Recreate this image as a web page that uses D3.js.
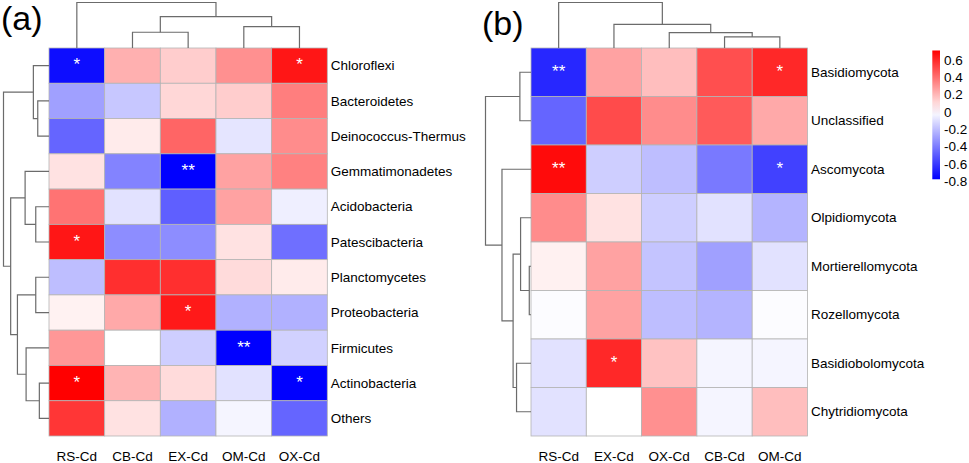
<!DOCTYPE html>
<html>
<head>
<meta charset="utf-8">
<script src="https://cdn.jsdelivr.net/npm/d3@7"></script>
<style>
  body { margin: 0; background: #fff; }
  svg { display: block; font-family: "Liberation Sans", Arial, sans-serif; }
</style>
</head>
<body>
<svg id="chart" width="969" height="463"></svg>
<script>
// ---- panel (a): bacteria ----
const rowsA = ["Chloroflexi", "Bacteroidetes", "Deinococcus-Thermus", "Gemmatimonadetes",
  "Acidobacteria", "Patescibacteria", "Planctomycetes", "Proteobacteria",
  "Firmicutes", "Actinobacteria", "Others"];
const colsA = ["RS-Cd", "CB-Cd", "EX-Cd", "OM-Cd", "OX-Cd"];
const valuesA = [
  [-0.74, 0.22, 0.14, 0.31, 0.65],
  [-0.29, -0.17, 0.11, 0.14, 0.36],
  [-0.47, 0.055, 0.43, -0.08, 0.32],
  [0.08, -0.38, -0.78, 0.26, 0.35],
  [0.39, -0.09, -0.49, 0.26, -0.05],
  [0.65, -0.35, -0.35, 0.08, -0.44],
  [-0.2, 0.58, 0.58, 0.1, 0.055],
  [0.035, 0.24, 0.64, -0.24, -0.24],
  [0.29, 0, -0.15, -0.78, -0.14],
  [0.71, 0.21, 0.1, -0.09, -0.78],
  [0.56, 0.08, -0.24, -0.03, -0.47]
];
const signifA = [
  ["*", "", "", "", "*"],
  ["", "", "", "", ""],
  ["", "", "", "", ""],
  ["", "", "**", "", ""],
  ["", "", "", "", ""],
  ["*", "", "", "", ""],
  ["", "", "", "", ""],
  ["", "", "*", "", ""],
  ["", "", "", "**", ""],
  ["*", "", "", "", "*"],
  ["", "", "", "", ""]
];
// hclust-style merges: negative = leaf (1-based), positive = earlier merge step
const rowMergeA = [[-2, -3, 11.3], [-1, 1, 15.7], [-5, -6, 13.3], [-4, 3, 24],
  [-7, -8, 13.3], [-10, -11, 9.7], [-9, 6, 23], [5, 7, 31.7], [4, 8, 38.5], [2, 9, 45.7]];
const colMergeA = [[-2, -3, 15.7], [-4, -5, 21.3], [1, 2, 31.3], [-1, 3, 45.3]];

// ---- panel (b): fungi ----
const rowsB = ["Basidiomycota", "Unclassified", "Ascomycota", "Olpidiomycota",
  "Mortierellomycota", "Rozellomycota", "Basidiobolomycota", "Chytridiomycota"];
const colsB = ["RS-Cd", "EX-Cd", "OX-Cd", "CB-Cd", "OM-Cd"];
const valuesB = [
  [-0.66, 0.26, 0.18, 0.49, 0.6],
  [-0.47, 0.5, 0.32, 0.46, 0.24],
  [0.68, -0.15, -0.2, -0.41, -0.58],
  [0.32, 0.08, -0.15, -0.09, -0.23],
  [0.04, 0.26, -0.18, -0.29, -0.09],
  [-0.01, 0.26, -0.2, -0.23, -0.01],
  [-0.09, 0.6, 0.17, -0.03, -0.03],
  [-0.09, 0, 0.31, -0.03, 0.18]
];
const signifB = [
  ["**", "", "", "", "*"],
  ["", "", "", "", ""],
  ["**", "", "", "", "*"],
  ["", "", "", "", ""],
  ["", "", "", "", ""],
  ["", "", "", "", ""],
  ["", "*", "", "", ""],
  ["", "", "", "", ""]
];
const rowMergeB = [[-1, -2, 11], [-5, -6, 1.7], [-4, 2, 10.3], [-7, -8, 14.3],
  [3, 4, 17.7], [-3, 5, 28.7], [1, 6, 45]];
const colMergeB = [[-4, -5, 11.3], [-3, 1, 15.7], [-2, 2, 24], [-1, 3, 46.3]];

// ---- colour legend ----
const legendTicks = [0.6, 0.4, 0.2, 0, -0.2, -0.4, -0.6, -0.8];
const legendMin = -0.78, legendMax = 0.71;

const color = d3.scaleLinear()
  .domain([legendMin, 0, legendMax])
  .range(["#0000ff", "#ffffff", "#ff0000"])
  .clamp(true);

const svg = d3.select("#chart");
const treeLen = 45.5;

function drawDendro(g, merges, leafScale, base, orient) {
  // orient "top": leaves along x, height upwards from base; "left": leaves along y, height leftwards
  const hScale = d3.scaleLinear()
    .domain([0, d3.max(merges, m => m[2])])
    .range([0, treeLen]);
  const nodes = [];
  const get = id => id < 0
    ? { p: leafScale(-id - 1) + leafScale.bandwidth() / 2, h: 0 }
    : nodes[id - 1];
  merges.forEach(m => {
    const a = get(m[0]), b = get(m[1]);
    const h = m[2];
    nodes.push({ p: (a.p + b.p) / 2, h: h });
    const path = d3.path();
    if (orient === "top") {
      path.moveTo(a.p, base - hScale(a.h));
      path.lineTo(a.p, base - hScale(h));
      path.lineTo(b.p, base - hScale(h));
      path.lineTo(b.p, base - hScale(b.h));
    } else {
      path.moveTo(base - hScale(a.h), a.p);
      path.lineTo(base - hScale(h), a.p);
      path.lineTo(base - hScale(h), b.p);
      path.lineTo(base - hScale(b.h), b.p);
    }
    g.append("path")
      .attr("d", path.toString())
      .attr("fill", "none")
      .attr("stroke", "#6b6b6b")
      .attr("stroke-width", 1.2);
  });
}

function drawPanel(opt) {
  const g = svg.append("g");
  const x = d3.scaleBand()
    .domain(d3.range(opt.cols.length))
    .range([opt.left, opt.right]);
  const y = d3.scaleBand()
    .domain(d3.range(opt.rows.length))
    .range([opt.top, opt.bottom]);

  opt.values.forEach((row, i) => {
    row.forEach((v, j) => {
      g.append("rect")
        .attr("x", x(j))
        .attr("y", y(i))
        .attr("width", x.bandwidth())
        .attr("height", y.bandwidth())
        .attr("fill", color(v))
        .attr("stroke", "#b4b4b4")
        .attr("stroke-width", 0.8);
      const s = opt.signif[i][j];
      if (s) {
        g.append("text")
          .attr("x", x(j) + x.bandwidth() / 2)
          .attr("y", y(i) + y.bandwidth() / 2 + 4.7)
          .attr("text-anchor", "middle")
          .attr("fill", "#fff")
          .attr("font-size", 17)
          .text(s);
      }
    });
  });

  // row labels
  g.selectAll(".rl")
    .data(opt.rows)
    .join("text")
    .attr("x", opt.right + 3.5)
    .attr("y", (d, i) => y(i) + y.bandwidth() / 2)
    .attr("dy", "0.35em")
    .attr("font-size", 13.5)
    .attr("fill", "#000")
    .text(d => d);

  // column labels
  g.selectAll(".cl")
    .data(opt.cols)
    .join("text")
    .attr("x", (d, i) => x(i) + x.bandwidth() / 2)
    .attr("y", 461)
    .attr("text-anchor", "middle")
    .attr("font-size", 13.5)
    .attr("fill", "#000")
    .text(d => d);

  drawDendro(g, opt.colMerge, x, opt.top, "top");
  drawDendro(g, opt.rowMerge, y, opt.left, "left");

  g.append("text")
    .attr("x", opt.labelX)
    .attr("y", opt.labelY)
    .attr("font-size", 34)
    .attr("fill", "#000")
    .text(opt.label);
}

drawPanel({
  rows: rowsA, cols: colsA, values: valuesA, signif: signifA,
  rowMerge: rowMergeA, colMerge: colMergeA,
  left: 49, right: 327.3, top: 48, bottom: 436,
  label: "(a)", labelX: 1, labelY: 30
});

drawPanel({
  rows: rowsB, cols: colsB, values: valuesB, signif: signifB,
  rowMerge: rowMergeB, colMerge: colMergeB,
  left: 531, right: 807.5, top: 48, bottom: 436,
  label: "(b)", labelX: 482, labelY: 35
});

// legend
const ly = d3.scaleLinear().domain([-0.8, 0.6]).range([181, 60]);
const defs = svg.append("defs");
const grad = defs.append("linearGradient")
  .attr("id", "lg")
  .attr("x1", 0).attr("y1", 1).attr("x2", 0).attr("y2", 0);
d3.range(0, 1.0001, 0.1).forEach(t => {
  grad.append("stop")
    .attr("offset", t)
    .attr("stop-color", color(legendMin + t * (legendMax - legendMin)));
});
svg.append("rect")
  .attr("x", 932.3)
  .attr("y", ly(legendMax))
  .attr("width", 7.7)
  .attr("height", ly(legendMin) - ly(legendMax))
  .attr("fill", "url(#lg)");

const axis = svg.append("g")
  .attr("transform", "translate(940,0)")
  .call(d3.axisRight(ly).tickValues(legendTicks).tickSize(0).tickPadding(4)
    .tickFormat(d => d === 0 ? "0" : d3.format(".1f")(d).replace("−", "-")));
axis.select(".domain").remove();
axis.selectAll("text")
  .attr("font-size", 13.5)
  .attr("font-family", "Liberation Sans, Arial, sans-serif")
  .attr("fill", "#000");
</script>
</body>
</html>
